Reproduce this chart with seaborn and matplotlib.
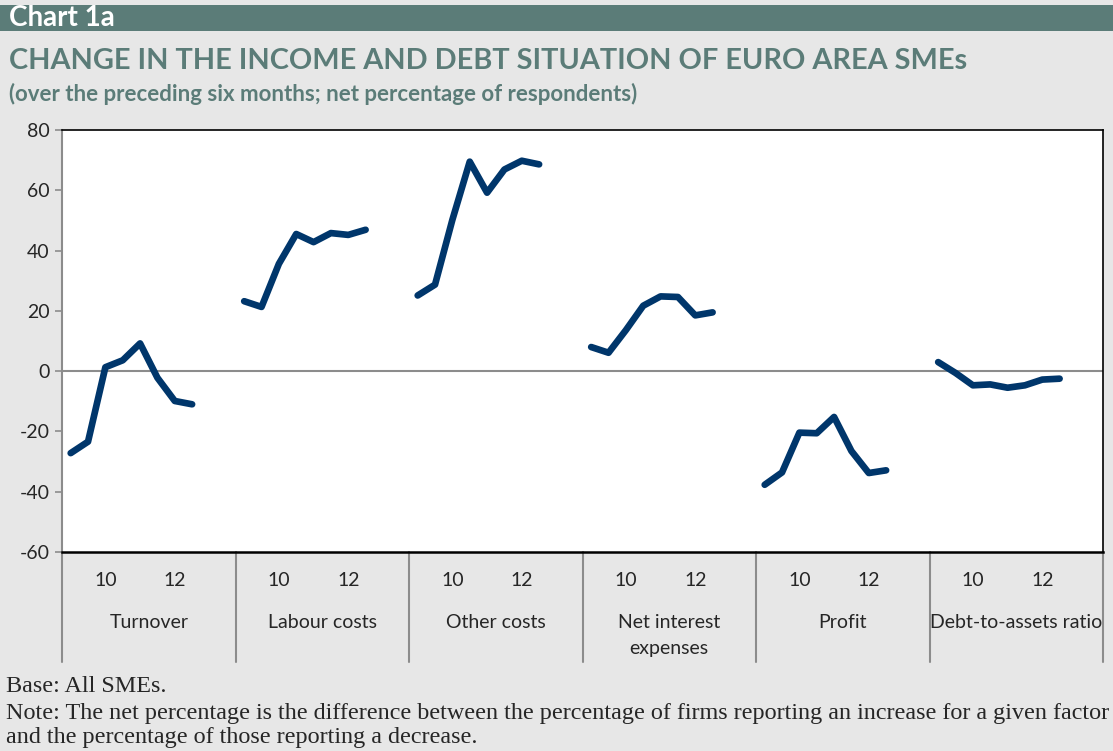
import numpy as np
import pandas as pd
import matplotlib
matplotlib.use("Agg")
import matplotlib.pyplot as plt
from matplotlib.patches import Rectangle
import seaborn as sns

# values, 8 survey waves per factor
factors = ["Turnover", "Labour costs", "Other costs", "Net interest\nexpenses", "Profit", "Debt-to-assets ratio"]
turnover = [-27.2, -23.4, 1.3, 3.6, 9.2, -2.2, -9.9, -11.0]
labour_costs = [23.2, 21.3, 35.6, 45.5, 42.8, 45.8, 45.2, 46.9]
other_costs = [25.1, 28.7, 50.2, 69.5, 59.2, 66.9, 69.8, 68.6]
net_interest = [8.0, 6.1, 13.6, 21.7, 24.8, 24.6, 18.5, 19.5]
profit = [-37.7, -33.6, -20.4, -20.6, -15.2, -26.5, -33.8, -32.9]
debt_to_assets = [3.0, -0.6, -4.7, -4.4, -5.5, -4.7, -2.8, -2.5]
wave_labels = ["", "", "10", "", "", "", "12", ""]

series = [turnover, labour_costs, other_costs, net_interest, profit, debt_to_assets]
SLOTS = 10  # category slots per group (8 waves + 2 empty)

rows = []
for g, (name, vals) in enumerate(zip(factors, series)):
    for i, v in enumerate(vals):
        rows.append({"factor": name, "pos": g * SLOTS + i + 0.5, "value": v})
df = pd.DataFrame(rows)

sns.set_style("white")
plt.rcParams["font.family"] = ["Lato", "DejaVu Sans"]
plt.rcParams["axes.unicode_minus"] = False

BG = "#e7e7e7"
TEAL = "#5b7c78"
NAVY = "#00366b"

fig = plt.figure(figsize=(11.13, 7.51), dpi=100, facecolor=BG)
W, H = 1113, 751

# header band
fig.patches.append(Rectangle((0, 1 - 31 / H), 1, 26 / H, transform=fig.transFigure,
                             facecolor=TEAL, edgecolor="none"))
fig.text(9 / W, 1 - 18 / H, "Chart 1a", color="white", fontsize=20, fontweight="bold", va="center")
fig.text(9 / W, 1 - 61 / H, "CHANGE IN THE INCOME AND DEBT SITUATION OF EURO AREA SMEs",
         color=TEAL, fontsize=20.8, fontweight="bold", va="center")
fig.text(9 / W, 1 - 94 / H, "(over the preceding six months; net percentage of respondents)",
         color=TEAL, fontsize=16, fontweight="bold", va="center")

ax = fig.add_axes([62 / W, 1 - 552 / H, (1103 - 62) / W, (552 - 130) / H])
ax.set_facecolor("white")

sns.lineplot(data=df, x="pos", y="value", units="factor", estimator=None,
             color=NAVY, linewidth=4.8, solid_capstyle="round", solid_joinstyle="round", ax=ax)

ax.axhline(0, color="#8c8c8c", linewidth=1.5, zorder=1)
ax.set_xlim(0, SLOTS * len(factors))
ax.set_ylim(-60, 80)
ax.set_yticks(np.arange(-60, 81, 20))
ax.tick_params(axis="y", direction="out", length=5, color="#8c8c8c", width=1.2,
               labelsize=14, pad=4, left=True)
ax.set_xticks([])
ax.set_xlabel("")
ax.set_ylabel("")

for side in ["top", "right"]:
    ax.spines[side].set_color("black")
    ax.spines[side].set_linewidth(1.2)
ax.spines["bottom"].set_color("black")
ax.spines["bottom"].set_linewidth(1.8)
ax.spines["left"].set_color("#8c8c8c")
ax.spines["left"].set_linewidth(1.5)

# multi-level category axis
xt = ax.get_xaxis_transform()
sep_depth = -(662 - 552) / (552 - 130)
for g in range(len(factors) + 1):
    ax.plot([g * SLOTS, g * SLOTS], [0, sep_depth], transform=xt, color="#8c8c8c",
            linewidth=1.5, clip_on=False)
for g, name in enumerate(factors):
    for i, lab in enumerate(wave_labels):
        if lab:
            ax.text(g * SLOTS + i + 0.5, -(580 - 552) / 422, lab, transform=xt,
                    ha="center", va="center", fontsize=14)
    ax.text(g * SLOTS + SLOTS / 2, -(614 - 552) / 422, name, transform=xt,
            ha="center", va="top", fontsize=14, linespacing=1.65)

# footnotes
serif = ["Liberation Serif", "DejaVu Serif"]
fig.text(6 / W, 1 - 686 / H, "Base: All SMEs.", family=serif, fontsize=17.4, va="center")
fig.text(6 / W, 1 - 714 / H,
         "Note: The net percentage is the difference between the percentage of firms reporting an increase for a given factor",
         family=serif, fontsize=17.4, va="center")
fig.text(6 / W, 1 - 738 / H, "and the percentage of those reporting a decrease.",
         family=serif, fontsize=17.4, va="center")

fig.savefig("out.png", dpi=100, facecolor=BG)
